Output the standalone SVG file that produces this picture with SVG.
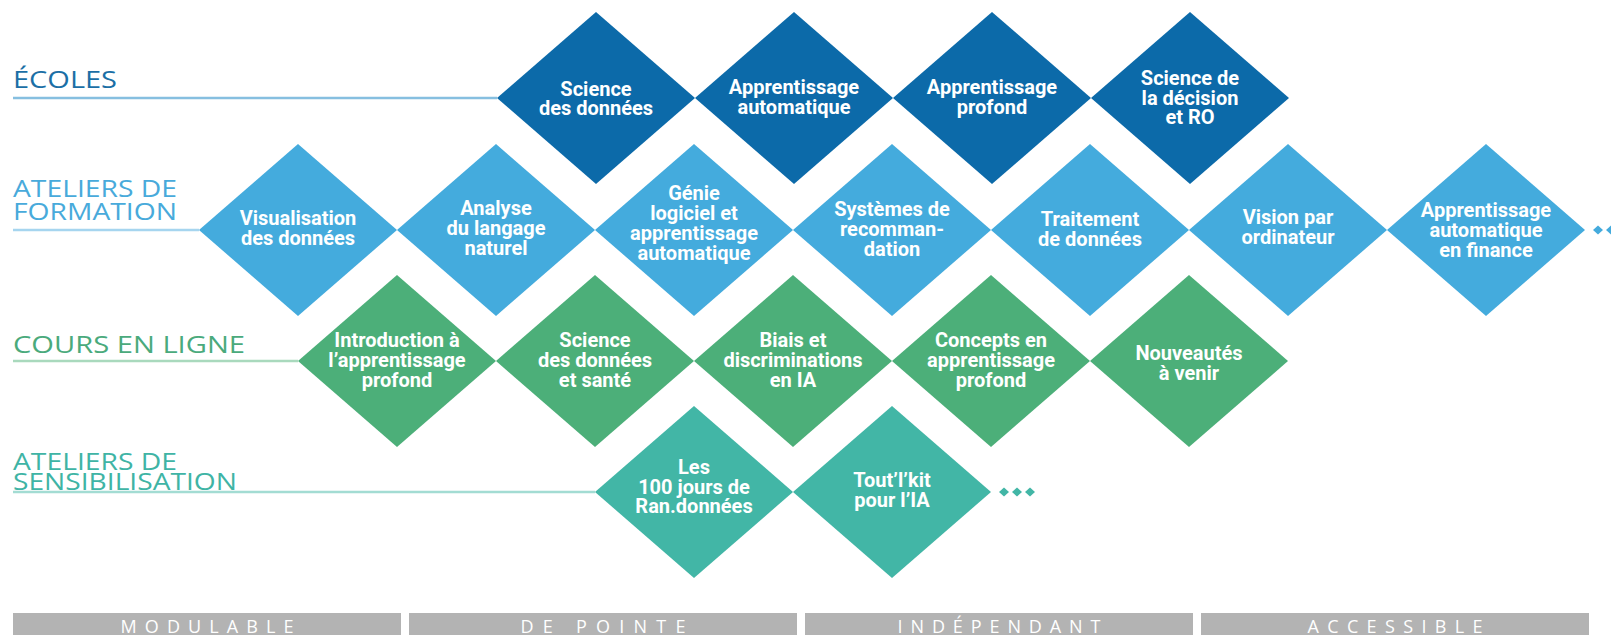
<svg xmlns="http://www.w3.org/2000/svg" width="1611" height="635" viewBox="0 0 1611 635">
<style>
.nt{font-family:Roboto,"Liberation Sans",sans-serif;font-weight:700;font-size:20px;fill:#fff;text-anchor:middle}
.lb{font-family:"Open Sans","Liberation Sans",sans-serif;font-weight:400;font-size:23px}
.bt{font-family:"Open Sans","Liberation Sans",sans-serif;font-weight:400;font-size:18px;fill:#fff;text-anchor:middle}
.r1{fill:#0c6aa9}.r2{fill:#44abdd}.r3{fill:#4caf79}.r4{fill:#42b6a6}
.bar{fill:#b3b3b3}
</style>
<defs>
<polygon id="dm" points="-99,0 0,-86 99,0 0,86"/>
<polygon id="dot" points="-5,0 0,-4.5 5,0 0,4.5"/>
</defs>
<rect width="1611" height="635" fill="#fff"/>

<g id="labels">
<text class="lb" x="13" y="88" fill="#1b6fa6" textLength="104" lengthAdjust="spacingAndGlyphs">ÉCOLES</text>
<text class="lb" x="13" y="197" fill="#48aadb" textLength="164" lengthAdjust="spacingAndGlyphs">ATELIERS DE</text>
<text class="lb" x="13" y="219.5" fill="#48aadb" textLength="164" lengthAdjust="spacingAndGlyphs">FORMATION</text>
<text class="lb" x="13" y="353" fill="#4aaa7c" textLength="232" lengthAdjust="spacingAndGlyphs">COURS EN LIGNE</text>
<text class="lb" x="13" y="470" fill="#3fb4a5" textLength="164" lengthAdjust="spacingAndGlyphs">ATELIERS DE</text>
<text class="lb" x="13" y="489.5" fill="#3fb4a5" textLength="224" lengthAdjust="spacingAndGlyphs">SENSIBILISATION</text>
</g>

<g id="connectors" stroke-width="2.5" fill="none">
<line x1="13" y1="98" x2="497" y2="98" stroke="#86bfe0"/>
<line x1="13" y1="230" x2="199" y2="230" stroke="#a6d5ef"/>
<line x1="13" y1="361" x2="298" y2="361" stroke="#a9d9bd"/>
<line x1="13" y1="492" x2="595" y2="492" stroke="#a3dcd3"/>
</g>

<g id="row1">
<g id="n-science-donnees"><use href="#dm" x="596" y="98" class="r1"/><text class="nt"><tspan x="596" y="96">Science</tspan><tspan x="596" y="115">des données</tspan></text></g>
<g id="n-apprentissage-automatique"><use href="#dm" x="794" y="98" class="r1"/><text class="nt"><tspan x="794" y="94">Apprentissage</tspan><tspan x="794" y="114">automatique</tspan></text></g>
<g id="n-apprentissage-profond"><use href="#dm" x="992" y="98" class="r1"/><text class="nt"><tspan x="992" y="94">Apprentissage</tspan><tspan x="992" y="114">profond</tspan></text></g>
<g id="n-science-decision"><use href="#dm" x="1190" y="98" class="r1"/><text class="nt"><tspan x="1190" y="85">Science de</tspan><tspan x="1190" y="104.5">la décision</tspan><tspan x="1190" y="124">et RO</tspan></text></g>
</g>

<g id="row2">
<g id="n-visualisation"><use href="#dm" x="298" y="230" class="r2"/><text class="nt"><tspan x="298" y="225">Visualisation</tspan><tspan x="298" y="245">des données</tspan></text></g>
<g id="n-analyse"><use href="#dm" x="496" y="230" class="r2"/><text class="nt"><tspan x="496" y="215">Analyse</tspan><tspan x="496" y="235">du langage</tspan><tspan x="496" y="255">naturel</tspan></text></g>
<g id="n-genie"><use href="#dm" x="694" y="230" class="r2"/><text class="nt"><tspan x="694" y="200">Génie</tspan><tspan x="694" y="220">logiciel et</tspan><tspan x="694" y="240">apprentissage</tspan><tspan x="694" y="260">automatique</tspan></text></g>
<g id="n-systemes"><use href="#dm" x="892" y="230" class="r2"/><text class="nt"><tspan x="892" y="216">Systèmes de</tspan><tspan x="892" y="236">recomman-</tspan><tspan x="892" y="256">dation</tspan></text></g>
<g id="n-traitement"><use href="#dm" x="1090" y="230" class="r2"/><text class="nt"><tspan x="1090" y="226">Traitement</tspan><tspan x="1090" y="246">de données</tspan></text></g>
<g id="n-vision"><use href="#dm" x="1288" y="230" class="r2"/><text class="nt"><tspan x="1288" y="224">Vision par</tspan><tspan x="1288" y="244">ordinateur</tspan></text></g>
<g id="n-finance"><use href="#dm" x="1486" y="230" class="r2"/><text class="nt"><tspan x="1486" y="217">Apprentissage</tspan><tspan x="1486" y="237">automatique</tspan><tspan x="1486" y="257">en finance</tspan></text></g>
<g id="more-ateliers" class="r2"><use href="#dot" x="1598" y="230"/><use href="#dot" x="1611" y="230"/><use href="#dot" x="1624" y="230"/></g>
</g>

<g id="row3">
<g id="n-intro"><use href="#dm" x="397" y="361" class="r3"/><text class="nt"><tspan x="397" y="347">Introduction à</tspan><tspan x="397" y="367">l’apprentissage</tspan><tspan x="397" y="387">profond</tspan></text></g>
<g id="n-sante"><use href="#dm" x="595" y="361" class="r3"/><text class="nt"><tspan x="595" y="347">Science</tspan><tspan x="595" y="367">des données</tspan><tspan x="595" y="387">et santé</tspan></text></g>
<g id="n-biais"><use href="#dm" x="793" y="361" class="r3"/><text class="nt"><tspan x="793" y="347">Biais et</tspan><tspan x="793" y="367">discriminations</tspan><tspan x="793" y="387">en IA</tspan></text></g>
<g id="n-concepts"><use href="#dm" x="991" y="361" class="r3"/><text class="nt"><tspan x="991" y="347">Concepts en</tspan><tspan x="991" y="367">apprentissage</tspan><tspan x="991" y="387">profond</tspan></text></g>
<g id="n-nouveautes"><use href="#dm" x="1189" y="361" class="r3"/><text class="nt"><tspan x="1189" y="360">Nouveautés</tspan><tspan x="1189" y="380">à venir</tspan></text></g>
</g>

<g id="row4">
<g id="n-100jours"><use href="#dm" x="694" y="492" class="r4"/><text class="nt"><tspan x="694" y="474">Les</tspan><tspan x="694" y="494">100 jours de</tspan><tspan x="694" y="513">Ran.données</tspan></text></g>
<g id="n-toutlkit"><use href="#dm" x="892" y="492" class="r4"/><text class="nt"><tspan x="892" y="487">Tout’l’kit</tspan><tspan x="892" y="507">pour l’IA</tspan></text></g>
<g id="more-sensibilisation" class="r4"><use href="#dot" x="1004" y="492"/><use href="#dot" x="1017" y="492"/><use href="#dot" x="1030" y="492"/></g>
</g>

<g id="footer">
<rect class="bar" x="13" y="613" width="388" height="22"/>
<rect class="bar" x="409" y="613" width="388" height="22"/>
<rect class="bar" x="805" y="613" width="388" height="22"/>
<rect class="bar" x="1201" y="613" width="388" height="22"/>
<text class="bt" x="207" y="633" textLength="173" lengthAdjust="spacing">MODULABLE</text>
<text class="bt" x="603" y="633" textLength="165" lengthAdjust="spacing">DE POINTE</text>
<text class="bt" x="999" y="633" textLength="203" lengthAdjust="spacing">INDÉPENDANT</text>
<text class="bt" x="1395" y="633" textLength="175" lengthAdjust="spacing">ACCESSIBLE</text>
</g>
</svg>
